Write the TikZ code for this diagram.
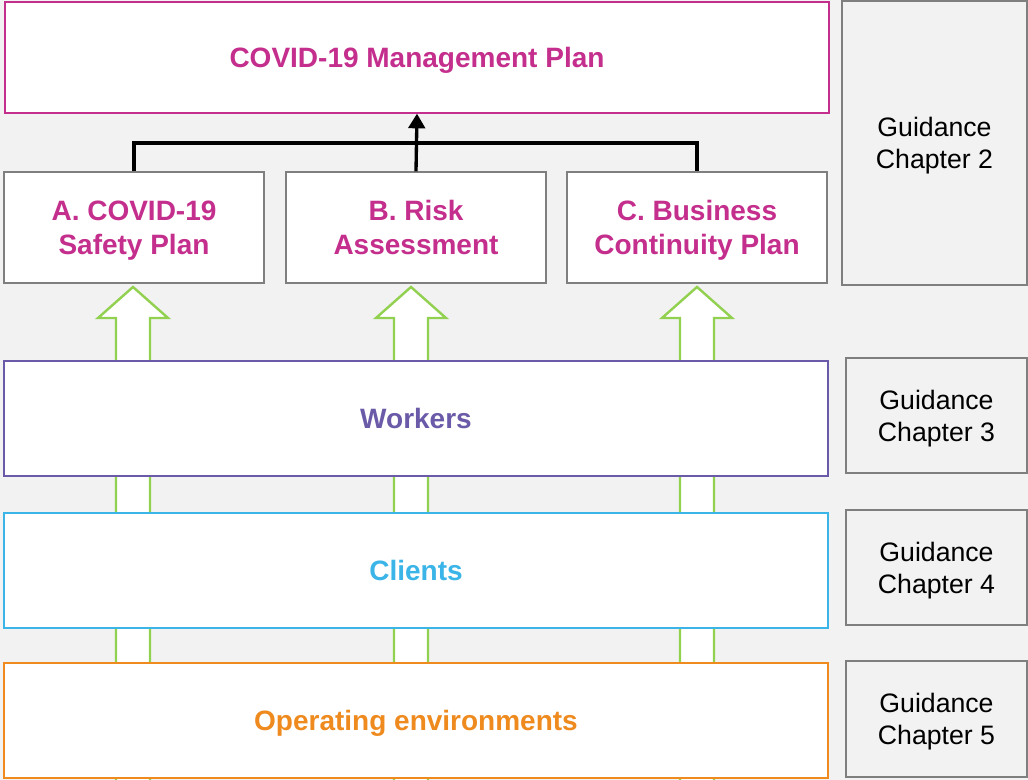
\documentclass[tikz,border=0pt]{standalone}
\usepackage{fontspec}
\setmainfont{Liberation Sans}
\usetikzlibrary{arrows.meta,calc}

\definecolor{bggray}{HTML}{F2F2F2}
\definecolor{plangray}{HTML}{7F7F7F}
\definecolor{planpink}{HTML}{C42E8C}
\definecolor{workpurple}{HTML}{6A5AA8}
\definecolor{clientblue}{HTML}{3BB5E8}
\definecolor{envorange}{HTML}{EE8A1E}
\definecolor{arrowgreen}{HTML}{92D050}

\tikzset{
  box/.style={draw, fill=white, line width=1pt, align=center, inner sep=0pt, text depth=0pt,
    font=\fontsize{21}{25.5}\selectfont\bfseries},
  guide/.style={draw=plangray, fill=bggray, line width=1pt, align=center, inner sep=0pt, text depth=0pt,
    font=\fontsize{20}{24}\selectfont},
  link/.style={line width=2.5pt, line join=miter},
  hollow/.style={draw=arrowgreen, fill=white, line width=1.8pt, line join=miter}
}

\begin{document}
\begin{tikzpicture}[x=0.75pt, y=-0.75pt]
    \fill[bggray] (0,0) rectangle (1028,780);
    \useasboundingbox (0,0) rectangle (1028,780);

%hollow arrows, under the layer boxes
    \foreach \xa in {133,411,697} {
    \draw[hollow] (\xa-17,782) -- (\xa-17,318) -- (\xa-35,318) -- (\xa,287)
       -- (\xa+35,318) -- (\xa+17,318) -- (\xa+17,782);
    }

%plans
    \node[box, draw=planpink, text=planpink, minimum width=618pt, minimum height=83.25pt] (plan) at (417,57.5) {COVID-19 Management Plan};
    \node[box, draw=plangray, text=planpink, minimum width=195pt, minimum height=83.25pt] (safety) at (134,227.5) {A. COVID-19\\Safety Plan};
    \node[box, draw=plangray, text=planpink, minimum width=195pt, minimum height=83.25pt] (risk) at (416,227.5) {B. Risk\\Assessment};
    \node[box, draw=plangray, text=planpink, minimum width=195pt, minimum height=83.25pt] (bcp) at (697,227.5) {C. Business\\Continuity Plan};

%layers
    \node[box, draw=workpurple, text=workpurple, minimum width=618pt, minimum height=86.25pt] (workers) at (416,418.5) {Workers};
    \node[box, draw=clientblue, text=clientblue, minimum width=618pt, minimum height=86.25pt] (clients) at (416,570.5) {Clients};
    \node[box, draw=envorange, text=envorange, minimum width=618pt, minimum height=86.25pt] (openv) at (416,720.5) {Operating environments};

%guidance
    \node[guide, minimum width=138.75pt, minimum height=213pt] (ch2) at (934.5,143) {Guidance\\Chapter 2};
    \node[guide, minimum width=135.75pt, minimum height=86.25pt] (ch3) at (936.5,415.5) {Guidance\\Chapter 3};
    \node[guide, minimum width=135.75pt, minimum height=86.25pt] (ch4) at (936.5,567.5) {Guidance\\Chapter 4};
    \node[guide, minimum width=135.75pt, minimum height=87pt] (ch5) at (936.5,719) {Guidance\\Chapter 5};

%connector
    \coordinate (bar) at (416,143);
    \draw[link] (safety.north) |- (bar) -| (bcp.north);
    \draw[link, -{Triangle[width=12.5pt,length=11pt]}] (risk.north) -- (plan.south);

  \end{tikzpicture}
\end{document}
